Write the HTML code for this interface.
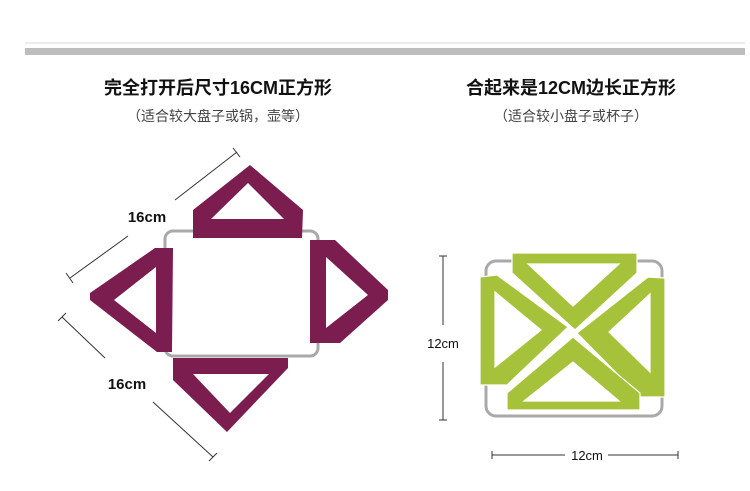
<!DOCTYPE html>
<html><head><meta charset="utf-8"><style>
body{margin:0;background:#fff;width:750px;height:486px;overflow:hidden;font-family:"Liberation Sans","Noto Sans CJK SC",sans-serif}
</style></head><body>
<svg width="750" height="486" viewBox="0 0 750 486" xmlns="http://www.w3.org/2000/svg">
<rect x="25" y="42" width="720" height="2" fill="#ececec"/>
<rect x="25" y="48" width="720" height="7" fill="#bdbdbd"/>
<g font-family="Liberation Sans, Noto Sans CJK SC, sans-serif" text-anchor="middle">
<text x="218" y="94" font-size="18" font-weight="bold" fill="#111">完全打开后尺寸16CM正方形</text>
<text x="218" y="121" font-size="14" fill="#444">（适合较大盘子或锅，壶等）</text>
<text x="571" y="94" font-size="18" font-weight="bold" fill="#111">合起来是12CM边长正方形</text>
<text x="571" y="121" font-size="14" fill="#444">（适合较小盘子或杯子）</text>
</g>
<!-- left wire -->
<rect x="165" y="231" width="153" height="125" rx="8" fill="none" stroke="#a9a9a9" stroke-width="3"/>
<g fill="#7b1d4e" fill-rule="evenodd">
<path d="M193,238 L193,210 L250,165 L303,210 L302,238 Z M211,219 L284,219 L248,183 Z"/>
<path d="M310,240 L335,240 L388,290 L388,300 L340,343 L310,343 Z M326,257 L368,295 L326,328 Z"/>
<path d="M155,248 L173,248 L172,352 L157,352 L90,300 L90,293 Z M156,267 L114,300 L156,333 Z"/>
<path d="M173,358 L288,358 L288,368 L227,432 L173,380 Z M193,374 L269,374 L230,413 Z"/>
</g>
<g stroke="#333" stroke-width="1" fill="none">
<line x1="70" y1="278" x2="128" y2="236"/><line x1="66" y1="273" x2="73" y2="283"/>
<line x1="175" y1="200" x2="237" y2="152"/><line x1="233" y1="148" x2="240" y2="157"/>
<line x1="62" y1="317" x2="105" y2="358"/><line x1="58" y1="321" x2="66" y2="313"/>
<line x1="153" y1="402" x2="213" y2="457"/><line x1="209" y1="461" x2="217" y2="453"/>
</g>
<text x="147" y="222" font-size="15" font-weight="bold" fill="#111" text-anchor="middle" font-family="Liberation Sans, sans-serif">16cm</text>
<text x="127" y="389" font-size="15" font-weight="bold" fill="#111" text-anchor="middle" font-family="Liberation Sans, sans-serif">16cm</text>
<!-- right wire -->
<rect x="486" y="261" width="176" height="155" rx="10" fill="none" stroke="#a9a9a9" stroke-width="3"/>
<g fill="#a6c23a" fill-rule="evenodd" stroke="#fff" stroke-width="1.2">
<path d="M512,253 L637,253 L637,273 L575,330 L512,273 Z M528,264 L619,264 L573,306 Z"/>
<path d="M480,277 L497,275 L568,327 L507,385 L480,385 Z M495,292 L541,330 L495,367 Z"/>
<path d="M665,278 L648,277 L577,333 L640,397 L665,397 Z M650,294 L609,332 L650,372 Z"/>
<path d="M573,337 L640,393 L640,410 L507,410 L507,393 Z M524,401 L619,401 L573,362 Z"/>
</g>
<g stroke="#333" stroke-width="1" fill="none">
<line x1="443" y1="256" x2="443" y2="325"/><line x1="443" y1="362" x2="443" y2="420"/>
<line x1="439" y1="256" x2="447" y2="256"/><line x1="439" y1="420" x2="447" y2="420"/>
<line x1="492" y1="455" x2="565" y2="455"/><line x1="608" y1="455" x2="678" y2="455"/>
<line x1="492" y1="451" x2="492" y2="459"/><line x1="678" y1="451" x2="678" y2="459"/>
</g>
<text x="443" y="348" font-size="13" fill="#111" text-anchor="middle" font-family="Liberation Sans, sans-serif">12cm</text>
<text x="587" y="460" font-size="13" fill="#111" text-anchor="middle" font-family="Liberation Sans, sans-serif">12cm</text>
</svg>
</body></html>
